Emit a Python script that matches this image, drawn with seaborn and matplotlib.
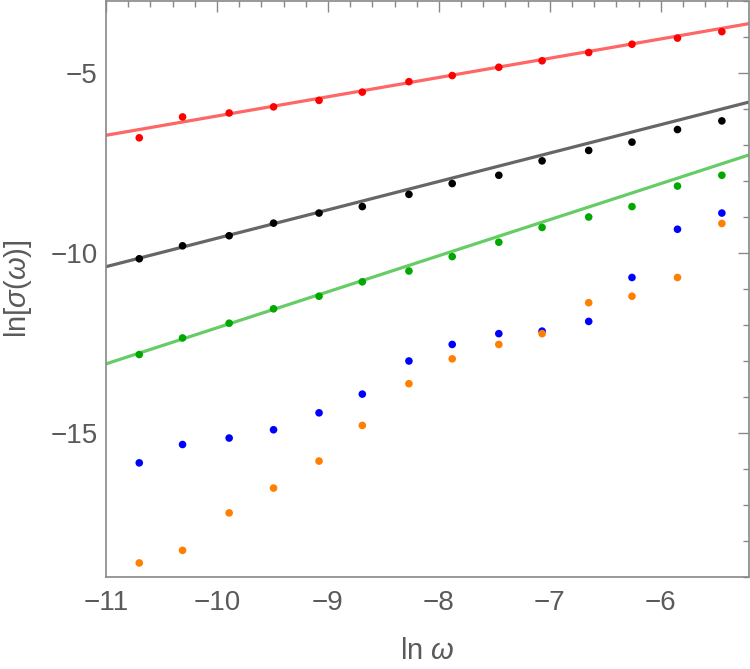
import numpy as np
import pandas as pd
import matplotlib
matplotlib.use("Agg")
import matplotlib.pyplot as plt
import seaborn as sns
from matplotlib.ticker import MultipleLocator

# ln(omega) sample points (same for every series)
ln_omega = [-10.70, -10.31, -9.89, -9.49, -9.08, -8.69, -8.27,
            -7.88, -7.46, -7.07, -6.65, -6.26, -5.85, -5.45]

red_pts = [-6.79, -6.21, -6.10, -5.93, -5.75, -5.52, -5.23,
           -5.06, -4.83, -4.65, -4.42, -4.19, -4.02, -3.84]
black_pts = [-10.15, -9.79, -9.51, -9.16, -8.88, -8.70, -8.36,
             -8.06, -7.83, -7.43, -7.14, -6.91, -6.56, -6.32]
green_pts = [-12.81, -12.35, -11.94, -11.54, -11.19, -10.79, -10.49,
             -10.09, -9.69, -9.28, -8.99, -8.70, -8.13, -7.83]
blue_pts = [-15.82, -15.31, -15.13, -14.90, -14.43, -13.91, -12.99,
            -12.53, -12.23, -12.16, -11.89, -10.67, -9.33, -8.88]
orange_pts = [-18.60, -18.25, -17.21, -16.52, -15.77, -14.78, -13.62,
              -12.93, -12.53, -12.23, -11.37, -11.19, -10.67, -9.17]

# fitted straight lines, given by their ends at the frame edges
line_x = [-11.0, -5.21]
red_line = [-6.72, -3.62]
black_line = [-10.37, -5.80]
green_line = [-13.07, -7.27]

series = ["red", "black", "green", "blue", "orange"]
point_colors = {"red": "#ff0000", "black": "#000000", "green": "#00a800",
                "blue": "#0000ff", "orange": "#ff7f00"}
line_colors = {"red": "#ff6666", "black": "#666666", "green": "#66cc66"}

points = pd.DataFrame({
    "x": ln_omega * 5,
    "y": red_pts + black_pts + green_pts + blue_pts + orange_pts,
    "series": np.repeat(series, len(ln_omega)),
})
lines = pd.DataFrame({
    "x": line_x * 3,
    "y": red_line + black_line + green_line,
    "series": np.repeat(["red", "black", "green"], 2),
})

sns.set_style("white")
plt.rcParams["font.family"] = ["Liberation Sans", "DejaVu Sans"]
plt.rcParams["mathtext.fontset"] = "custom"
plt.rcParams["mathtext.it"] = "Liberation Sans:italic"
plt.rcParams["mathtext.rm"] = "Liberation Sans"

fig = plt.figure(figsize=(7.5, 6.69), dpi=100)
ax = fig.add_axes([0.1413, 0.137, 0.8567, 0.862])

sns.lineplot(data=lines, x="x", y="y", hue="series", palette=line_colors,
             linewidth=2.3, legend=False, ax=ax)
sns.scatterplot(data=points, x="x", y="y", hue="series", palette=point_colors,
                s=30, linewidth=0, legend=False, ax=ax, zorder=3)

ax.set_xlim(-11, -5.21)
ax.set_ylim(-19, -2.98)

ax.xaxis.set_major_locator(MultipleLocator(1))
ax.xaxis.set_minor_locator(MultipleLocator(0.2))
ax.yaxis.set_major_locator(MultipleLocator(5))
ax.yaxis.set_minor_locator(MultipleLocator(1))
fmt = plt.FuncFormatter(lambda v, p: f"{v:.0f}".replace("-", "\u2212"))
ax.xaxis.set_major_formatter(fmt)
ax.yaxis.set_major_formatter(fmt)

grey = "#888888"
for sp in ax.spines.values():
    sp.set_color(grey)
    sp.set_linewidth(1.2)
ax.tick_params(which="both", direction="in", top=True, right=True,
               color=grey, width=1, labelcolor="#5a5a5a", labelsize=20)
ax.tick_params(which="major", length=8)
ax.tick_params(which="minor", length=4)
ax.tick_params(axis="x", which="major", pad=9)
ax.tick_params(axis="y", which="major", pad=6)

ax.set_xlabel(r"ln $\omega$", fontsize=21, color="#5a5a5a", labelpad=15)
ax.set_ylabel(r"ln[$\sigma$($\omega$)]", fontsize=21, color="#5a5a5a", labelpad=12)

fig.savefig("out.png", dpi=100)
